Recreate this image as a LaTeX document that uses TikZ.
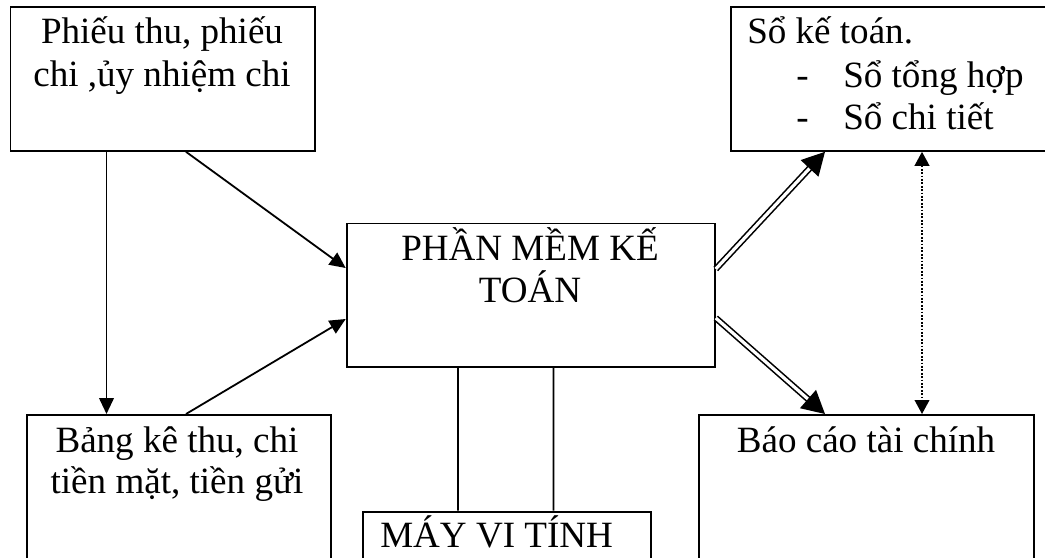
\documentclass[tikz,border=0pt]{standalone}
\usepackage{fontspec}
\setmainfont{Liberation Serif}
\usetikzlibrary{arrows.meta,calc}

\begin{document}
\begin{tikzpicture}[x=0.75pt,y=-0.75pt,
  box/.style={draw, line width=1.35pt, rectangle, inner sep=0pt, anchor=north west},
  txt/.style={inner sep=0pt, font=\fontsize{27.8pt}{32pt}\selectfont},
  arr/.style={line width=1.35pt, -{Triangle[length=12pt,width=11pt]}},
  dbl/.style={double, double distance=2.4pt, line width=1.2pt, -{Triangle[length=17pt,width=18pt]}},
  dots/.style={line width=1.35pt, dash pattern=on 1.35pt off 1.2pt,
    {Triangle[length=10.5pt,width=11pt]}-{Triangle[length=10.5pt,width=11pt]}},
  link/.style={line width=1.35pt}]

\useasboundingbox (0,0) rectangle (1045,557);

% boxes
\node[box, minimum width=228.4pt, minimum height=108pt] (tl) at (9.5,6) {};
\node[box, minimum width=240pt,   minimum height=108pt] (tr) at (730,6) {};
\node[box, minimum width=276.2pt, minimum height=107.6pt] (c) at (345.7,222.5) {};
\node[box, minimum width=228pt,   minimum height=127.5pt] (bl) at (26,414) {};
\node[box, minimum width=251.25pt, minimum height=127.5pt] (br) at (698,414) {};
\node[box, minimum width=216pt,   minimum height=52.5pt] (m) at (362,510.7) {};

% box texts
\node[txt, anchor=base] (tla) at (162,43) {Phiếu thu, phiếu};
\node[txt, anchor=base] (tlb) at (162,86) {chi ,ủy nhiệm chi};

\node[txt, anchor=base west] (tra) at (747,43) {Sổ kế toán.};
\node[txt, anchor=base west] (trd1) at (796,87) {-};
\node[txt, anchor=base west] (trb) at (843,87) {Sổ tổng hợp};
\node[txt, anchor=base west] (trd2) at (796,129) {-};
\node[txt, anchor=base west] (trc) at (843,129) {Sổ chi tiết};

\node[txt, anchor=base] (ca) at (530,260) {PHẦN MỀM KẾ};
\node[txt, anchor=base] (cb) at (530,302) {TOÁN};

\node[txt, anchor=base] (bla) at (177,452) {Bảng kê thu, chi};
\node[txt, anchor=base] (blb) at (177,493) {tiền mặt, tiền gửi};

\node[txt, anchor=base] (bra) at (866,452) {Báo cáo tài chính};

\node[txt, anchor=base west] (ma) at (380,547) {MÁY VI TÍNH};

% connectors
\draw[arr] ($(tl.south west)+(97,0)$) -- ($(bl.north west)+(80.5,0)$);
\draw[arr] ($(tl.south west)+(176.5,0)$) -- ($(c.north west)+(0,45.5)$);
\draw[arr] ($(bl.north west)+(160,0)$) -- ($(c.north west)+(0,96.5)$);
\draw[dbl] ($(c.north east)+(0,46.5)$) -- ($(tr.south west)+(95,0)$);
\draw[dbl] ($(c.north east)+(0,95.5)$) -- ($(br.north west)+(127,0)$);
\draw[dots] ($(tr.south west)+(192,0)$) -- ($(br.north west)+(224,0)$);
\draw[link] ($(c.south west)+(112.3,0)$) -- ($(m.north west)+(96,0)$);
\draw[link] ($(c.south west)+(207.8,0)$) -- ($(m.north west)+(191.5,0)$);
\end{tikzpicture}
\end{document}
